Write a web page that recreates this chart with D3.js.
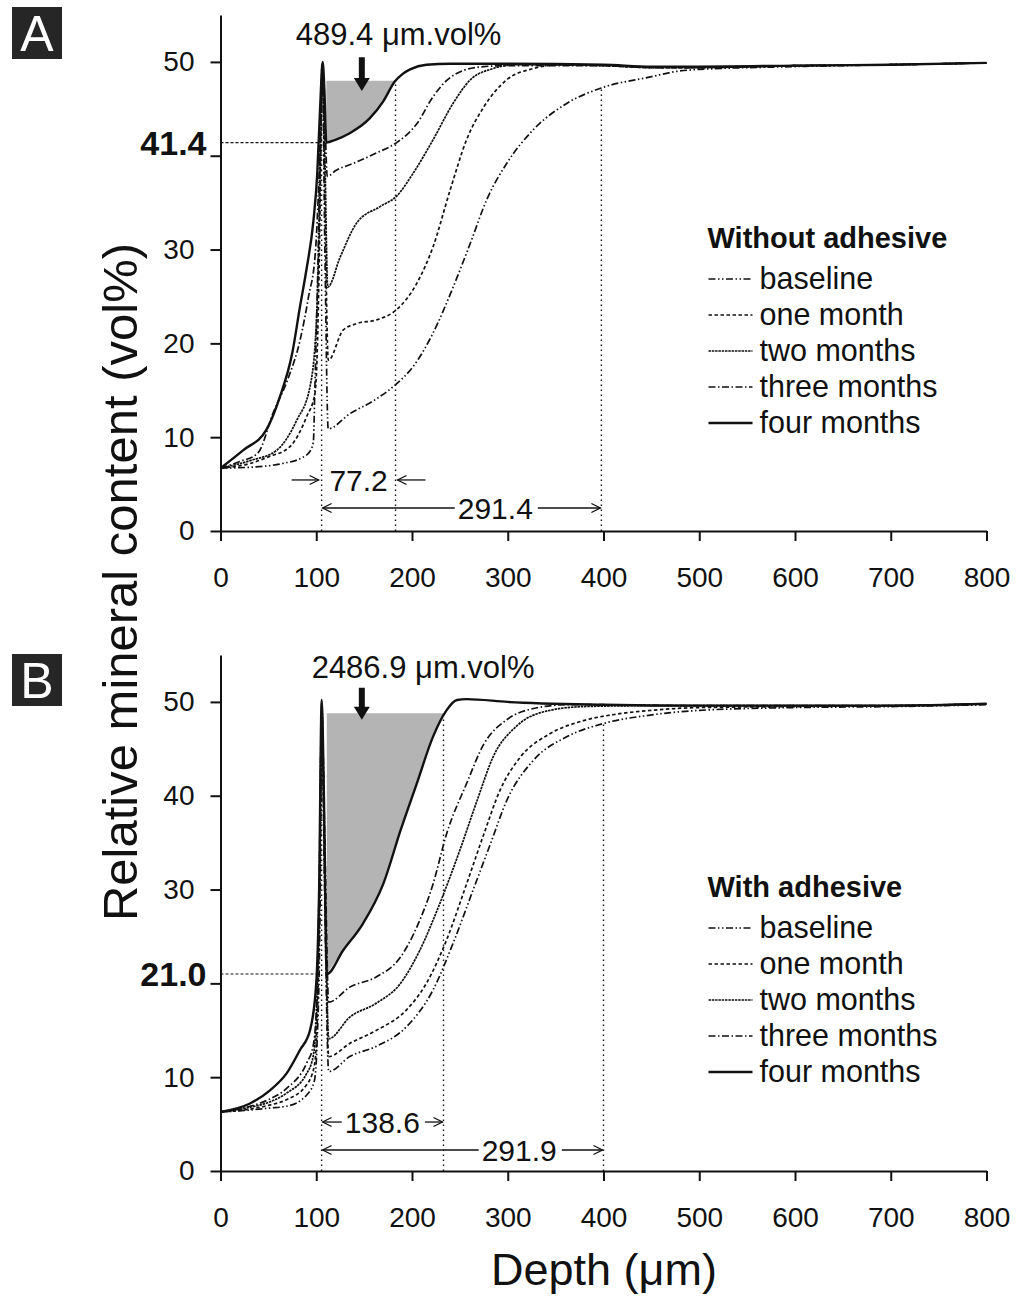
<!DOCTYPE html>
<html>
<head>
<meta charset="utf-8">
<script src="https://cdn.jsdelivr.net/npm/d3@7"></script>
<style>
  body { margin: 0; background: #fff; }
  svg { display: block; font-family: "Liberation Sans", Arial, sans-serif; }
</style>
</head>
<body>
<svg id="chart" width="1020" height="1302"></svg>
<script>
// legend / labels
const seriesNames = ["baseline", "one month", "two months", "three months", "four months"];
const panelTitles = ["Without adhesive", "With adhesive"];
const panelLetters = ["A", "B"];
const xTicks = [0, 100, 200, 300, 400, 500, 600, 700, 800];
const yTicks = [0, 10, 20, 30, 40, 50];

// panel A profiles, [depth (um), mineral (vol%)]
const a_baseline = [[0,6.7],[31,6.8],[65,7.2],[85,7.8],[93.5,8.5],[97,9.5],[98.5,15],[101,25],[106.5,48],[109,30],[112.5,10.9],[135,12.5],[160,13.9],[184,15.7],[201,17.5],[222,21.1],[243,26],[261,30.7],[278,35.3],[299,39.2],[327,42.8],[362,45.6],[397,47.2],[449,48.4],[477,49],[500,49.2],[600,49.5],[700,49.7],[800,49.9]];
const a_one = [[0,6.7],[31,7.2],[50,7.9],[72.6,9],[90,12.2],[98.7,14.7],[101,19],[103,28],[106.5,48.5],[109,35],[112.6,18.2],[128,21.4],[142,22.1],[163,22.5],[184,23.6],[205,26.4],[222,30.3],[240,36.4],[257,41.7],[275,45.2],[299,48.1],[327,49.3],[355,49.7],[400,49.6],[450,49.4],[500,49.4],[600,49.6],[700,49.7],[800,49.9]];
const a_two = [[0,6.7],[31,7.5],[58.7,8.6],[79.6,11.8],[93.5,15.4],[100,22],[103,32],[106.5,49],[109,40],[112,26],[125,29.2],[142,32.8],[167,34.6],[184,35.7],[201,38.1],[222,41.7],[243,45.6],[261,48.1],[285,49.3],[309,49.7],[400,49.6],[450,49.4],[500,49.4],[600,49.6],[700,49.7],[800,49.9]];
const a_three = [[0,6.7],[20,7.4],[39,8.3],[55,12.6],[70,16.1],[83,20.3],[92,25],[99,29.6],[103,38],[106.5,49.5],[109,44],[111.5,37.8],[120,38.4],[139,39.2],[163,40.3],[184,41.4],[205,43.4],[222,46.3],[236,48],[254,49.1],[275,49.5],[300,49.6],[400,49.6],[450,49.4],[500,49.4],[600,49.6],[700,49.7],[800,49.9]];
const a_four = [[0,6.7],[23.5,8.6],[48,10.8],[62,14.3],[75,19],[83,23.9],[90,28],[97,33],[101,38],[104,45],[106.7,50],[108.5,47],[110.5,41.4],[120,41.7],[135,42.4],[156,44],[170,45.8],[182,47.9],[190,48.7],[198,49.2],[215,49.7],[240,49.8],[300,49.8],[400,49.7],[450,49.5],[500,49.5],[600,49.6],[700,49.7],[800,49.9]];

// panel B profiles
const b_baseline = [[0,6.3],[31,6.5],[50,6.7],[69,6.9],[90,8.1],[98,9.6],[101,14],[104,28],[105.7,48],[109,28],[113,10.6],[135,12.2],[163,13.3],[194.5,15.4],[222,19.3],[243,24.3],[264,30],[282,34.9],[299,39.5],[327,43.8],[362,46.3],[400,47.7],[449,48.6],[500,49.1],[600,49.4],[700,49.5],[800,49.7]];
const b_one = [[0,6.3],[31,6.6],[50,7],[69,7.6],[90,9.2],[98,11.2],[101,16],[103.5,28],[105.7,48.5],[109,30],[113,12.2],[135,13.6],[163,15],[194.5,17.2],[215,20],[236,24.6],[257,30.6],[275,35.9],[292,40.6],[313,44.1],[344,46.6],[379,48],[414,48.7],[450,49.1],[500,49.4],[600,49.5],[700,49.6],[800,49.8]];
const b_two = [[0,6.3],[31,6.8],[50,7.3],[69,8.3],[90,10.4],[96.7,12.2],[100,16],[103,28],[105.7,49],[109,32],[113,14.1],[135,16.4],[163,17.9],[188,20],[208,23.5],[229,28.5],[250,34.2],[268,39.5],[285,44.2],[309,47.4],[344,49.1],[379,49.5],[450,49.6],[500,49.6],[600,49.6],[700,49.6],[800,49.8]];
const b_three = [[0,6.3],[31,6.9],[50,7.6],[69,8.8],[90,11.5],[96.7,13.3],[100,17],[103,30],[105.7,49.5],[109,35],[113,18],[135,19.6],[163,20.7],[188,22.8],[205,26],[222,30.6],[236,35.9],[257,41.3],[275,45.5],[299,48.1],[327,49.3],[362,49.7],[400,49.7],[500,49.6],[600,49.6],[700,49.6],[800,49.8]];
const b_four = [[0,6.3],[30.8,7.2],[51.7,8.6],[69,10.4],[83,12.9],[93.5,15],[100,20],[103,30],[105.7,50.2],[108,40],[111,21],[128,23.5],[149,26.4],[170,30.6],[188,36.3],[205,41.3],[222,46.3],[236,49.1],[247,50.2],[257,50.3],[300,50],[400,49.7],[500,49.6],[600,49.6],[700,49.6],[800,49.8]];

// annotations
const areaLevels = [48.0, 48.8];
const areaLabels = ["489.4 \u03bcm.vol%", "2486.9 \u03bcm.vol%"];
const areaLabelPos = [[186, 51.8], [211.6, 52.6]];   // [depth, vol%]
const arrowDepths = [147.6, 147.6];
const arrowRanges = [[50.5, 46.9], [51.5, 48.1]];
const minLabels = ["41.4", "21.0"];
const minValues = [41.4, 21.0];
const dottedA = [105.6, 182.8, 397.8];
const dottedB = [105.6, 232.9, 400];
const spanLabelsA = ["77.2", "291.4"];
const spanLabelsB = ["138.6", "291.9"];
const spanLabelDepthA = [144.2, 287];
const spanLabelDepthB = [169, 312];
const spanYA = [5.44, 2.45];
const spanYB = [5.22, 2.24];

// layout
const svg = d3.select("#chart");
const left = 220.5, plotW = 766, plotH = 516;
const panelTops = [15, 655];
const boxTops = [7, 654];
const legendTops = [233, 242];
const ink = "#111";
const dashes = ["7,2.5,1.5,2.5,1.5,2.5", "3.5,2.5", "2.5,0.8", "7,2.5,1.5,2.5", null];
const widths = [1.7, 1.7, 1.7, 1.7, 2.4];

const x = d3.scaleLinear().domain([0, 800]).range([0, plotW]);
const y = d3.scaleLinear().domain([0, 55]).range([plotH, 0]);

const line = d3.line().x(d => x(d[0])).y(d => y(d[1])).curve(d3.curveMonotoneX);

function valueAt(data, depth) {
  for (let i = 1; i < data.length; i++) {
    if (data[i][0] >= depth) {
      const [x0, y0] = data[i - 1], [x1, y1] = data[i];
      return y0 + (y1 - y0) * (depth - x0) / (x1 - x0);
    }
  }
  return data[data.length - 1][1];
}

// first depth (on the rising flank) where the curve reaches v
function depthAt(data, v, from, to) {
  for (let i = 1; i < data.length; i++) {
    const [x0, y0] = data[i - 1], [x1, y1] = data[i];
    if (x0 < from || x1 > to) continue;
    if (y0 <= v && y1 >= v) return x0 + (x1 - x0) * (v - y0) / (y1 - y0);
  }
  return from;
}

function arrowHead(g, xt, yt, dir) {
  g.append("path")
    .attr("d", `M${xt - dir * 9},${yt - 4.5}L${xt},${yt}L${xt - dir * 9},${yt + 4.5}`)
    .attr("fill", "none").attr("stroke", ink).attr("stroke-width", 1.3);
}

function hArrow(g, x1, x2, yy) {
  g.append("line").attr("x1", x1).attr("x2", x2).attr("y1", yy).attr("y2", yy)
    .attr("stroke", ink).attr("stroke-width", 1.3);
  arrowHead(g, x2, yy, x2 > x1 ? 1 : -1);
}

function drawPanel(i, series, dotted, spanLabels, spanDepths, spanYs) {
  const top = panelTops[i];
  const g = svg.append("g").attr("transform", `translate(${left},${top})`);
  const four = series[4];
  const level = areaLevels[i];

  // shaded area between the four-month curve and the level
  let peak = 0;
  four.forEach((d, k) => { if (d[0] < 150 && d[1] > four[peak][1]) peak = k; });
  let low = peak;
  for (let k = peak; k < four.length && four[k][0] < 150; k++) if (four[k][1] < four[low][1]) low = k;
  const pts = [];
  for (let k = low; k < four.length; k++) {
    if (four[k][1] < level) { pts.push(four[k]); continue; }
    const [x0, y0] = four[k - 1], [x1, y1] = four[k];
    pts.push([x0 + (x1 - x0) * (level - y0) / (y1 - y0), level]);
    break;
  }
  g.append("path")
    .datum(pts)
    .attr("fill", "#b4b4b4")
    .attr("d", d3.area().x(d => x(d[0])).y0(y(level)).y1(d => y(d[1])).curve(d3.curveMonotoneX));

  // dotted verticals
  const tops = [50, level, valueAt(series[0], dotted[2])];
  dotted.forEach((dep, k) => {
    g.append("line")
      .attr("x1", x(dep)).attr("x2", x(dep))
      .attr("y1", y(0)).attr("y2", y(tops[k]))
      .attr("stroke", ink).attr("stroke-width", 1.4).attr("stroke-dasharray", "1.4,3.6");
  });

  // dashed line to the lesion surface value
  const mv = minValues[i];
  g.append("line")
    .attr("x1", 0).attr("x2", x(depthAt(four, mv, 80, 106)))
    .attr("y1", y(mv)).attr("y2", y(mv))
    .attr("stroke", ink).attr("stroke-width", 1.2).attr("stroke-dasharray", "3,2");
  g.append("text")
    .attr("x", -14).attr("y", y(mv)).attr("dy", "0.36em")
    .attr("text-anchor", "end").attr("font-size", 34).attr("font-weight", "bold")
    .attr("fill", ink).text(minLabels[i]);

  // profiles
  series.forEach((data, k) => {
    g.append("path")
      .datum(data)
      .attr("fill", "none")
      .attr("stroke", ink)
      .attr("stroke-width", widths[k])
      .attr("stroke-dasharray", dashes[k])
      .attr("stroke-linejoin", "round")
      .attr("d", line);
  });

  // axes; the tick label nearest the marked value gives way to it
  const hidden = yTicks.find(t => Math.abs(t - mv) < 5);
  const yAxis = g.append("g")
    .call(d3.axisLeft(y).tickValues(yTicks).tickSize(10).tickPadding(16).tickSizeOuter(0)
      .tickFormat(t => t === hidden ? "" : t));
  const xAxis = g.append("g").attr("transform", `translate(0,${plotH})`)
    .call(d3.axisBottom(x).tickValues(xTicks).tickSize(10).tickPadding(26).tickSizeOuter(0));
  [xAxis, yAxis].forEach(a => {
    a.selectAll("path, line").attr("stroke", ink).attr("stroke-width", 2);
    a.selectAll("text").attr("font-size", 28).attr("fill", ink)
      .attr("font-family", "'Liberation Sans', Arial, sans-serif");
  });

  // area value label and thick arrow
  g.append("text")
    .attr("x", x(areaLabelPos[i][0])).attr("y", y(areaLabelPos[i][1]))
    .attr("text-anchor", "middle").attr("font-size", 31).attr("fill", ink)
    .text(areaLabels[i]);
  const ax = x(arrowDepths[i]), at = y(arrowRanges[i][0]), ab = y(arrowRanges[i][1]);
  g.append("path")
    .attr("d", `M${ax - 3},${at}L${ax + 3},${at}L${ax + 3},${ab - 13}L${ax + 8},${ab - 13}L${ax},${ab}L${ax - 8},${ab - 13}L${ax - 3},${ab - 13}Z`)
    .attr("fill", ink);

  // span annotations
  const xs = x(dotted[0]);
  [1, 2].forEach(k => {
    const xe = x(dotted[k]);
    const yy = y(spanYs[k - 1]);
    const t = g.append("text")
      .attr("x", x(spanDepths[k - 1])).attr("y", yy).attr("dy", "0.36em")
      .attr("text-anchor", "middle").attr("font-size", 30).attr("fill", ink)
      .text(spanLabels[k - 1]);
    const w = t.node().getComputedTextLength();
    const tl = x(spanDepths[k - 1]) - w / 2, tr = x(spanDepths[k - 1]) + w / 2;
    if (xe - xs - w < 40) {
      hArrow(g, xs - 30, xs - 3, yy);
      hArrow(g, xe + 30, xe + 2, yy);
    } else {
      hArrow(g, tl - 3, xs + 1, yy);
      hArrow(g, tr + 5, xe - 1, yy);
    }
  });

  // legend
  const lg = g.append("g").attr("transform", `translate(487,${legendTops[i]})`);
  lg.append("text").attr("x", 0).attr("y", 0)
    .attr("font-size", 29).attr("font-weight", "bold").attr("fill", ink)
    .text(panelTitles[i]);
  seriesNames.forEach((name, k) => {
    const ly = 31 + k * 36;
    lg.append("line").attr("x1", 1).attr("x2", 45).attr("y1", ly).attr("y2", ly)
      .attr("stroke", ink).attr("stroke-width", widths[k]).attr("stroke-dasharray", dashes[k]);
    lg.append("text").attr("x", 52).attr("y", ly).attr("dy", "0.34em")
      .attr("font-size", 30.5).attr("fill", ink).text(name);
  });

  // panel letter
  svg.append("rect").attr("x", 12).attr("y", boxTops[i]).attr("width", 50).attr("height", 52)
    .attr("fill", "#262626");
  svg.append("text").attr("x", 37).attr("y", boxTops[i] + 26).attr("dy", "0.36em")
    .attr("text-anchor", "middle").attr("font-size", 50).attr("fill", "#fff")
    .text(panelLetters[i]);
}

drawPanel(0, [a_baseline, a_one, a_two, a_three, a_four], dottedA, spanLabelsA, spanLabelDepthA, spanYA);
drawPanel(1, [b_baseline, b_one, b_two, b_three, b_four], dottedB, spanLabelsB, spanLabelDepthB, spanYB);

// axis titles
svg.append("text")
  .attr("transform", "translate(137,582) rotate(-90)")
  .attr("text-anchor", "middle").attr("font-size", 49).attr("fill", ink)
  .text("Relative mineral content (vol%)");
svg.append("text")
  .attr("x", 604).attr("y", 1285)
  .attr("text-anchor", "middle").attr("font-size", 45).attr("fill", ink)
  .text("Depth (\u03bcm)");
</script>
</body>
</html>
